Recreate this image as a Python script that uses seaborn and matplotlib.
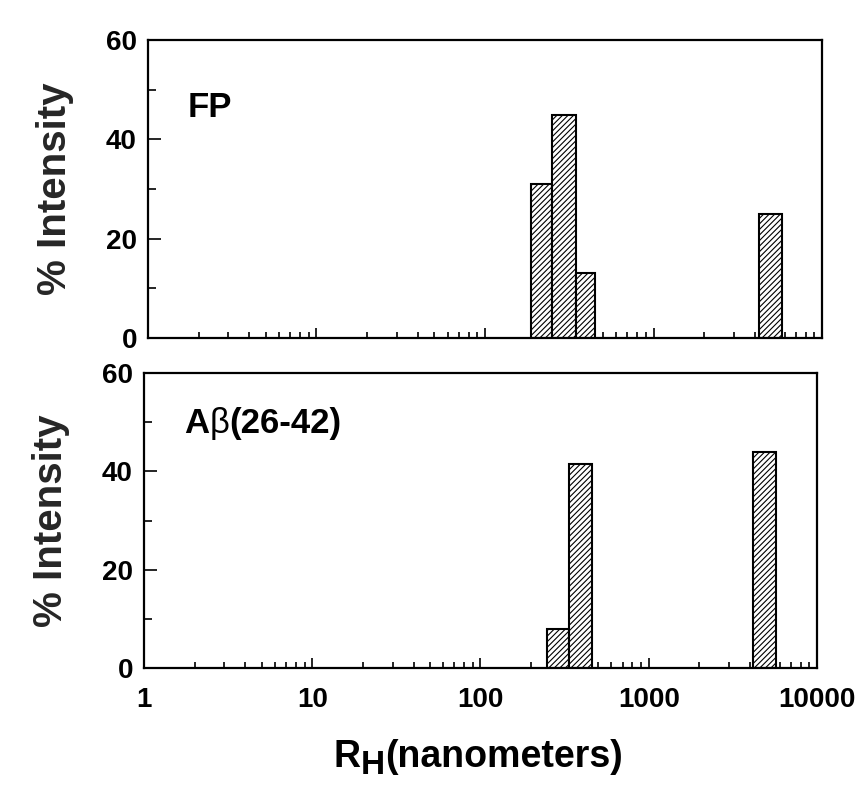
import numpy as np
import pandas as pd
import matplotlib
matplotlib.use("Agg")
import matplotlib.pyplot as plt
import matplotlib.ticker as mticker
import matplotlib.transforms as mtransforms
import seaborn as sns

# ---------------- data ----------------
# FP panel: histogram bins (nm) and % intensity
fp_edges_a = [187, 250, 347, 450]
fp_heights_a = [31, 45, 13]
fp_edges_b = [4230, 5790]
fp_heights_b = [25]
# Abeta(26-42) panel
ab_edges_a = [247, 334, 457]
ab_heights_a = [8, 41.5]
ab_edges_b = [4150, 5680]
ab_heights_b = [44]

y_ticks = [0, 20, 40, 60]
y_tick_labels = ["0", "20", "40", "60"]
x_ticks = [1, 10, 100, 1000, 10000]
x_tick_labels = ["1", "10", "100", "1000", "10000"]
y_label = "% Intensity"

# ---------------- style ----------------
sns.set_style("white")
plt.rcParams["font.family"] = ["Liberation Sans", "DejaVu Sans"]
plt.rcParams["hatch.linewidth"] = 0.8
plt.rcParams["hatch.color"] = "black"

fig = plt.figure(figsize=(8.67, 7.95), dpi=100)
ax_top = fig.add_axes([0.1707, 0.5748, 0.7774, 0.3748])
ax_bot = fig.add_axes([0.1661, 0.1597, 0.7762, 0.3711])


def draw_group(ax, edges, heights):
    e = np.log10(np.asarray(edges, dtype=float))
    centers = 10 ** ((e[:-1] + e[1:]) / 2)
    df = pd.DataFrame({"radius": centers, "intensity": heights})
    n_before = len(ax.patches)
    sns.histplot(data=df, x="radius", weights="intensity", bins=[float(v) for v in e],
                 log_scale=True, stat="count", ax=ax, fill=True,
                 color="white", edgecolor="black", linewidth=1.5, alpha=1)
    for p in ax.patches[n_before:]:
        p.set_facecolor("white")
        p.set_edgecolor("black")
        p.set_hatch("//////")


def style_axes(ax, show_xlabels):
    ax.set_xscale("log")
    ax.set_xlim(1, 10000)
    ax.set_ylim(0, 60)
    ax.set_yticks(y_ticks)
    ax.set_yticklabels(y_tick_labels)
    ax.yaxis.set_minor_locator(mticker.MultipleLocator(10))
    ax.set_xticks(x_ticks)
    ax.set_xticklabels(x_tick_labels)
    ax.xaxis.set_minor_locator(mticker.LogLocator(base=10, subs=np.arange(2, 10), numticks=20))
    ax.xaxis.set_minor_formatter(mticker.NullFormatter())
    for s in ax.spines.values():
        s.set_linewidth(1.6)
        s.set_color("black")
    ax.tick_params(axis="both", which="both", direction="in", top=False,
                   right=False, bottom=True, left=True, colors="black", width=1.2)
    ax.tick_params(axis="y", which="major", length=9, pad=8, labelsize=20)
    ax.tick_params(axis="y", which="minor", length=5.5)
    ax.tick_params(axis="x", which="major", length=7.5, pad=14, labelsize=20)
    ax.tick_params(axis="x", which="minor", length=4.5)
    for lab in ax.get_xticklabels() + ax.get_yticklabels():
        lab.set_fontweight("bold")
    if not show_xlabels:
        ax.tick_params(axis="x", labelbottom=False)
    ax.set_xlabel("")
    ax.set_ylabel(y_label, fontsize=29, fontweight="bold")
    ax.yaxis.set_label_coords(-0.11, 0.5)


draw_group(ax_top, fp_edges_a, fp_heights_a)
draw_group(ax_top, fp_edges_b, fp_heights_b)
draw_group(ax_bot, ab_edges_a, ab_heights_a)
draw_group(ax_bot, ab_edges_b, ab_heights_b)

style_axes(ax_top, False)
style_axes(ax_bot, True)

renderer = fig.canvas.get_renderer()


def place_pieces(artist_parent, base_transform, x, y, pieces):
    dx = 0.0
    for txt, kw, dy in pieces:
        tr = mtransforms.offset_copy(base_transform, fig=fig, x=dx, y=dy, units="dots")
        t = artist_parent.text(x, y, txt, transform=tr, va="baseline", ha="left", **kw)
        bb = t.get_window_extent(renderer)
        dx += bb.width


bold25 = dict(fontsize=25, fontweight="bold", color="black")
place_pieces(ax_top, ax_top.transAxes, 0.059, 0.742, [("FP", bold25, 0)])
place_pieces(ax_bot, ax_bot.transAxes, 0.060, 0.797, [
    ("A", bold25, 0),
    ("β", dict(fontsize=25, fontweight="normal", color="black"), 0),
    ("(26-42)", bold25, 0),
])

bold27 = dict(fontsize=27, fontweight="bold", color="black")
place_pieces(fig, fig.transFigure, 0.385, 0.0352, [
    ("R", bold27, 0),
    ("H", dict(fontsize=24, fontweight="bold", color="black"), -7),
    ("(nanometers)", bold27, 0),
])

fig.savefig("out.png", dpi=100)
